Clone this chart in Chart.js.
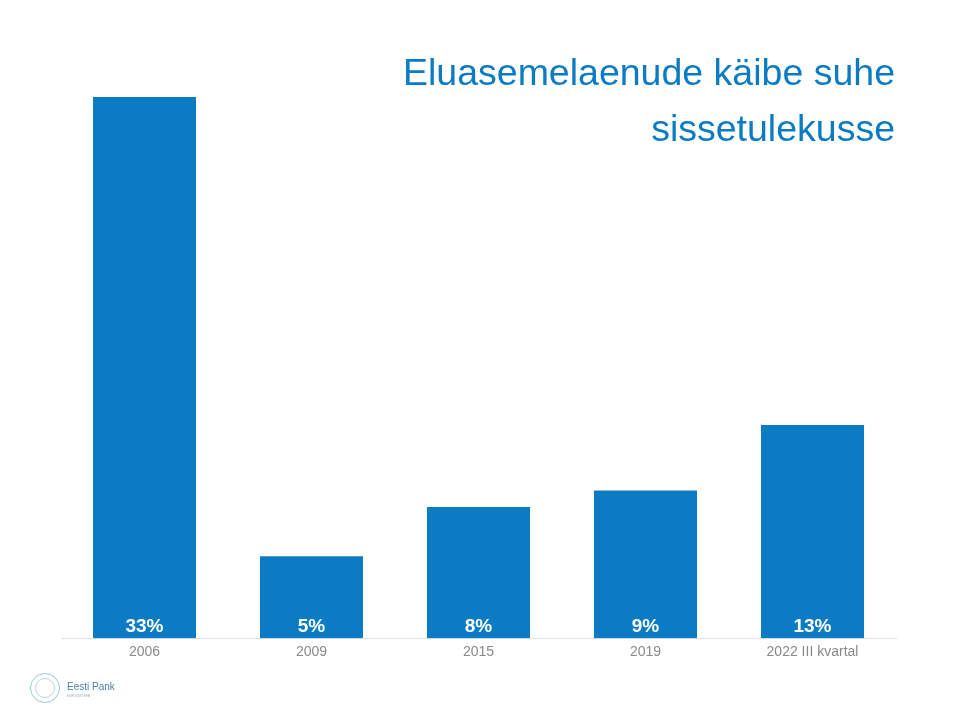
<!DOCTYPE html>
<html>
<head>
<meta charset="utf-8">
<script src="https://cdn.jsdelivr.net/npm/chart.js@4"></script>
<style>
    body { margin: 0; background: #fff; font-family: "Liberation Sans", Arial, sans-serif; }
    #wrap { position: relative; width: 960px; height: 720px; }
    #title { position: absolute; right: 65px; top: 44px; text-align: right; color: #0b7cc3; font-size: 37.5px; line-height: 56px; white-space: nowrap; }
    #logo { position: absolute; left: 30px; top: 673px; }
    #logo .seal { position: absolute; left: 0; top: 0; width: 30px; height: 30px; border: 1px solid #9cc5de; border-radius: 50%; box-sizing: border-box; }
    #logo .seal2 { position: absolute; left: 5px; top: 5px; width: 20px; height: 20px; border: 1px solid #b8d6e8; border-radius: 50%; box-sizing: border-box; }
    #logo .name { position: absolute; left: 37px; top: 8px; font-size: 10px; color: #4a7fa8; white-space: nowrap; }
    #logo .sub { position: absolute; left: 37px; top: 21px; font-size: 3px; color: #9ab; white-space: nowrap; }
</style>
</head>
<body>
<div id="wrap">
    <canvas id="chart" width="960" height="720"></canvas>
    <div id="title">Eluasemelaenude käibe suhe<br>sissetulekusse</div>
    <div id="logo"><div class="seal"></div><div class="seal2"></div><div class="name">Eesti Pank</div><div class="sub">EUROSÜSTEEM</div></div>
</div>
<script>
const categories = ['2006', '2009', '2015', '2019', '2022 III kvartal'];
const values = [33, 5, 8, 9, 13];

// value labels at the bottom of each bar
const barLabels = {
    id: 'barLabels',
    afterDatasetsDraw(chart) {
        const ctx = chart.ctx;
        const meta = chart.getDatasetMeta(0);
        ctx.save();
        ctx.fillStyle = '#ffffff';
        ctx.font = 'bold 19px "Liberation Sans", Arial, sans-serif';
        ctx.textAlign = 'center';
        ctx.textBaseline = 'alphabetic';
        meta.data.forEach(function(bar, i) {
            ctx.fillText(values[i] + '%', bar.x, bar.base - 6);
        });
        ctx.restore();
    }
};

const ctx = document.getElementById('chart').getContext('2d');
const chart = new Chart(ctx, {
    type: 'bar',
    data: {
        labels: categories,
        datasets: [{
            data: values,
            backgroundColor: '#0b7cc3',
            borderWidth: 0,
            categoryPercentage: 1,
            barPercentage: 0.617
        }]
    },
    options: {
        responsive: false,
        animation: false,
        layout: { padding: { left: 61, right: 64, top: 97, bottom: 61 } },
        plugins: {
            legend: { display: false },
            tooltip: { enabled: false }
        },
        scales: {
            x: {
                grid: { display: false },
                border: { color: '#e2e2e2', width: 1 },
                ticks: {
                    color: '#8a8a8a',
                    font: { family: '"Liberation Sans", Arial, sans-serif', size: 14 },
                    padding: -2,
                    maxRotation: 0
                }
            },
            y: {
                display: false,
                min: 0,
                max: 33
            }
        }
    },
    plugins: [barLabels]
});
</script>
</body>
</html>
